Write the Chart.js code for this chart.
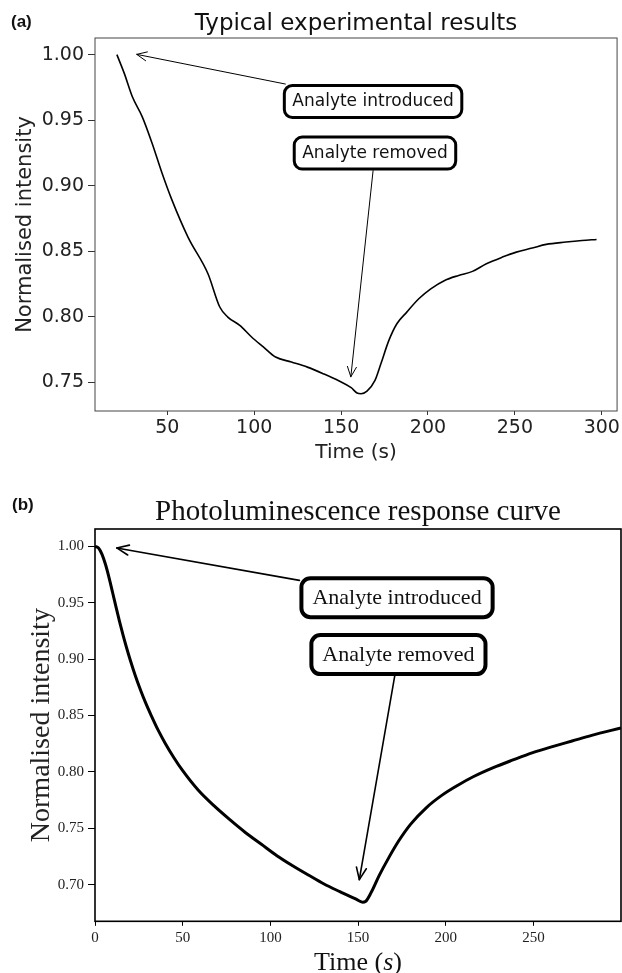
<!DOCTYPE html>
<html><head><meta charset="utf-8">
<script src="https://cdn.jsdelivr.net/npm/chart.js@4.4.1/dist/chart.umd.min.js"></script>
<style>
html,body{margin:0;padding:0;background:#fff;width:622px;height:973px;overflow:hidden}
#wa{position:absolute;left:0;top:0}
#wb{position:absolute;left:0;top:470px}
canvas{display:block}
</style></head><body>
<div id="wa"><canvas id="ca" width="622" height="470"></canvas></div>
<div id="wb"><canvas id="cb" width="622" height="503"></canvas></div>
<script>
// ---------- data (a) Typical experimental results ----------
const expTime = [21, 25.3, 29.9, 35.6, 41.3, 47, 52.7, 61.9, 73.4, 80.2, 84.8, 91.7, 98.5, 105.4, 112.3, 121.4, 130.6, 139.7, 148.9, 155.8, 159.2, 161.5, 164.9, 169.5, 172.9, 177.5, 182.1, 187.8, 194.7, 201.6, 209.6, 217.6, 225.6, 233.6, 242.8, 250.8, 260, 268, 279.4, 288.6, 297];
const expIntensity = [1.000, 0.9855, 0.9678, 0.9525, 0.9322, 0.9094, 0.8889, 0.8607, 0.8327, 0.8073, 0.7996, 0.7933, 0.7844, 0.7767, 0.7691, 0.7653, 0.7614, 0.7564, 0.7508, 0.7457, 0.7416, 0.7411, 0.7431, 0.7513, 0.7640, 0.7818, 0.7945, 0.8034, 0.8136, 0.8212, 0.8276, 0.8314, 0.8345, 0.8403, 0.8454, 0.8492, 0.8523, 0.8551, 0.8569, 0.8581, 0.8589];
const expXTicks = [50, 100, 150, 200, 250, 300];
const expYTicks = [0.75, 0.80, 0.85, 0.90, 0.95, 1.00];
const expAnnotations = [
  {text: 'Analyte introduced', boxX: 168.4, boxY: 0.9642, tipX: 32.4, tipY: 1.0002},
  {text: 'Analyte removed', boxX: 169.5, boxY: 0.9248, tipX: 155.6, tipY: 0.754}
];
// ---------- data (b) Photoluminescence response curve ----------
const modelTime = [0, 2, 4, 6, 8, 10, 12, 14, 16, 18, 20, 23, 26, 29, 32, 36, 40, 45, 49.8, 58.8, 67.8, 76.7, 85.7, 94.7, 103.7, 112.7, 121.6, 130.6, 139.6, 148.6, 152.6, 154.2, 157.5, 162, 167.6, 173.2, 180, 189, 197.9, 206.9, 215.9, 227.1, 238.3, 249.6, 260.8, 272, 283.2, 299.9];
const modelIntensity = [1.000, 0.9985, 0.9929, 0.9839, 0.9723, 0.9593, 0.9461, 0.9333, 0.9213, 0.9101, 0.8997, 0.8853, 0.8724, 0.8607, 0.8502, 0.8370, 0.8255, 0.8126, 0.8015, 0.7839, 0.7700, 0.7578, 0.7463, 0.7360, 0.7257, 0.7168, 0.7086, 0.7006, 0.6938, 0.6873, 0.6844, 0.6850, 0.6932, 0.7080, 0.7242, 0.7389, 0.7537, 0.7684, 0.7794, 0.7882, 0.7959, 0.8038, 0.8106, 0.8171, 0.8224, 0.8274, 0.8324, 0.8390];
const modelXTicks = [0, 50, 100, 150, 200, 250];
const modelYTicks = [0.70, 0.75, 0.80, 0.85, 0.90, 0.95, 1.00];
const modelAnnotations = [
  {text: 'Analyte introduced', boxX: 172.2, boxY: 0.9545, tipX: 12.4, tipY: 0.9986},
  {text: 'Analyte removed', boxX: 173, boxY: 0.904, tipX: 150.7, tipY: 0.7044}
];

// ---------- helpers ----------
function rrect(ctx, x, y, w, h, r) {
  ctx.beginPath();
  ctx.moveTo(x + r, y);
  ctx.lineTo(x + w - r, y); ctx.arcTo(x + w, y, x + w, y + r, r);
  ctx.lineTo(x + w, y + h - r); ctx.arcTo(x + w, y + h, x + w - r, y + h, r);
  ctx.lineTo(x + r, y + h); ctx.arcTo(x, y + h, x, y + h - r, r);
  ctx.lineTo(x, y + r); ctx.arcTo(x, y, x + r, y, r);
  ctx.closePath();
}

const deco = {
  id: 'deco',
  afterDraw(chart, args, o) {
    const ctx = chart.ctx, ca = chart.chartArea;
    const xs = chart.scales.x, ys = chart.scales.y;
    ctx.save();
    // spines
    ctx.strokeStyle = o.spineColor; ctx.lineWidth = o.spineWidth;
    ctx.strokeRect(ca.left, ca.top, ca.right - ca.left, ca.bottom - ca.top);
    // title
    ctx.fillStyle = '#111';
    ctx.font = o.titleFont; ctx.textAlign = 'center'; ctx.textBaseline = 'alphabetic';
    ctx.fillText(o.title, (ca.left + ca.right) / 2, o.titleY);
    // panel label
    ctx.font = 'bold 17px "Liberation Sans", Arial, sans-serif';
    ctx.textAlign = 'left'; ctx.textBaseline = 'middle';
    ctx.fillText(o.panel, o.panelX, o.panelY);
    // custom x title with italic part
    if (o.xTitleParts) {
      ctx.textBaseline = 'alphabetic'; ctx.textAlign = 'left';
      let total = 0;
      o.xTitleParts.forEach(p => { ctx.font = p.font; total += ctx.measureText(p.t).width; });
      let x = (ca.left + ca.right) / 2 - total / 2;
      o.xTitleParts.forEach(p => { ctx.font = p.font; ctx.fillText(p.t, x, o.xTitleY); x += ctx.measureText(p.t).width; });
    }
    // annotations
    const st = o.ann;
    ctx.font = st.font;
    o.annotations.forEach(a => {
      const cx = xs.getPixelForValue(a.boxX), cy = ys.getPixelForValue(a.boxY);
      const tx = xs.getPixelForValue(a.tipX), ty = ys.getPixelForValue(a.tipY);
      const w = ctx.measureText(a.text).width + 2 * st.padX, h = st.h;
      const dx = tx - cx, dy = ty - cy;
      const t1 = dx !== 0 ? Math.abs((w / 2) / dx) : Infinity;
      const t2 = dy !== 0 ? Math.abs((h / 2) / dy) : Infinity;
      const t = Math.min(t1, t2);
      const sx = cx + dx * t, sy = cy + dy * t;
      ctx.strokeStyle = '#000'; ctx.lineWidth = st.arrowW; ctx.lineCap = 'round'; ctx.lineJoin = 'round';
      ctx.beginPath(); ctx.moveTo(sx, sy); ctx.lineTo(tx, ty); ctx.stroke();
      const ang = Math.atan2(ty - sy, tx - sx);
      const c = Math.cos(ang), s = Math.sin(ang);
      ctx.beginPath();
      ctx.moveTo(tx - st.headL * c + st.headW * s, ty - st.headL * s - st.headW * c);
      ctx.lineTo(tx, ty);
      ctx.lineTo(tx - st.headL * c - st.headW * s, ty - st.headL * s + st.headW * c);
      ctx.stroke();
      const bw = st.border;
      rrect(ctx, cx - w / 2 + bw / 2, cy - h / 2 + bw / 2, w - bw, h - bw, st.radius);
      ctx.fillStyle = '#fff'; ctx.fill();
      ctx.lineWidth = bw; ctx.strokeStyle = '#000'; ctx.stroke();
      ctx.fillStyle = '#111'; ctx.textAlign = 'center'; ctx.textBaseline = 'middle';
      ctx.fillText(a.text, cx, cy + st.textDy);
    });
    ctx.restore();
  }
};

function makeChart(id, cfg) {
  const pts = cfg.xs.map((x, i) => ({x: x, y: cfg.ys[i]}));
  return new Chart(document.getElementById(id), {
    type: 'line',
    data: {datasets: [{data: pts, borderColor: '#000', borderWidth: cfg.lineW, pointRadius: 0,
      fill: false, cubicInterpolationMode: 'monotone'}]},
    plugins: [deco],
    options: {
      responsive: false, animation: false, devicePixelRatio: 1,
      layout: {padding: cfg.padding},
      plugins: {legend: {display: false}, tooltip: {enabled: false}, title: {display: false}, deco: cfg.deco},
      scales: {
        x: {
          type: 'linear', min: cfg.xMin, max: cfg.xMax,
          afterBuildTicks: s => { s.ticks = cfg.xTicks.map(v => ({value: v})); },
          afterFit: s => { s.height = cfg.xHeight; },
          border: {display: false},
          grid: {drawOnChartArea: false, drawTicks: true, tickLength: cfg.xTickLen, color: cfg.tickColor, lineWidth: 1},
          ticks: {font: cfg.tickFont, color: '#222', padding: cfg.xTickPad, maxRotation: 0, autoSkip: false,
            callback: v => String(v)},
          title: cfg.xTitle
        },
        y: {
          type: 'linear', min: cfg.yMin, max: cfg.yMax,
          afterBuildTicks: s => { s.ticks = cfg.yTicks.map(v => ({value: v})); },
          afterFit: s => { s.width = cfg.yWidth; },
          border: {display: false},
          grid: {drawOnChartArea: false, drawTicks: true, tickLength: cfg.yTickLen, color: cfg.tickColor, lineWidth: 1},
          ticks: {font: cfg.tickFont, color: '#222', padding: cfg.yTickPad, autoSkip: false,
            callback: v => Number(v).toFixed(2)},
          title: cfg.yTitle
        }
      }
    }
  });
}

const SANS = 'DejaVu Sans';
const SERIF = '"Liberation Serif", "Times New Roman", serif';

makeChart('ca', {
  xs: expTime, ys: expIntensity, lineW: 1.6,
  xMin: 8.4, xMax: 308.8, yMin: 0.7279, yMax: 1.0127,
  xTicks: expXTicks, yTicks: expYTicks,
  padding: {top: 38, right: 3, left: 0, bottom: 0},
  xHeight: 59, yWidth: 95,
  xTickLen: 4, xTickPad: 2, yTickLen: 7, yTickPad: 4,
  tickColor: '#333', tickFont: {family: SANS, size: 19},
  xTitle: {display: true, text: 'Time (s)', color: '#222', font: {family: SANS, size: 20}, padding: {top: 0, bottom: 5}},
  yTitle: {display: true, text: 'Normalised intensity', color: '#222', font: {family: SANS, size: 21}, padding: {top: 13, bottom: 0}},
  deco: {
    spineColor: '#444', spineWidth: 1,
    title: 'Typical experimental results', titleFont: '23px "DejaVu Sans"', titleY: 30,
    panel: '(a)', panelX: 11, panelY: 22.5,
    annotations: expAnnotations,
    ann: {font: '17px "DejaVu Sans"', padX: 9.5, h: 35, border: 3, radius: 8, arrowW: 1, headL: 10, headW: 4.5, textDy: 0}
  }
});

makeChart('cb', {
  xs: modelTime, ys: modelIntensity, lineW: 3,
  xMin: 0, xMax: 299.9, yMin: 0.6675, yMax: 1.0154,
  xTicks: modelXTicks, yTicks: modelYTicks,
  padding: {top: 59, right: 1, left: 0, bottom: 0},
  xHeight: 51.7, yWidth: 95,
  xTickLen: 4.5, xTickPad: 3.5, yTickLen: 7, yTickPad: 4,
  tickColor: '#000', tickFont: {family: SERIF, size: 15},
  xTitle: {display: false},
  yTitle: {display: true, text: 'Normalised intensity', color: '#222', font: {family: SERIF, size: 28}, padding: {top: 25, bottom: 0}},
  deco: {
    spineColor: '#000', spineWidth: 1.6,
    title: 'Photoluminescence response curve', titleFont: '29px ' + SERIF, titleY: 50,
    panel: '(b)', panelX: 12, panelY: 35,
    xTitleParts: [
      {t: 'Time (', font: '26px ' + SERIF},
      {t: 's', font: 'italic 26px ' + SERIF},
      {t: ')', font: '26px ' + SERIF}
    ],
    xTitleY: 500,
    annotations: modelAnnotations,
    ann: {font: '22px ' + SERIF, padX: 13, h: 43, border: 4, radius: 9, arrowW: 1.6, headL: 12, headW: 5, textDy: 1}
  }
});
</script>
</body></html>
